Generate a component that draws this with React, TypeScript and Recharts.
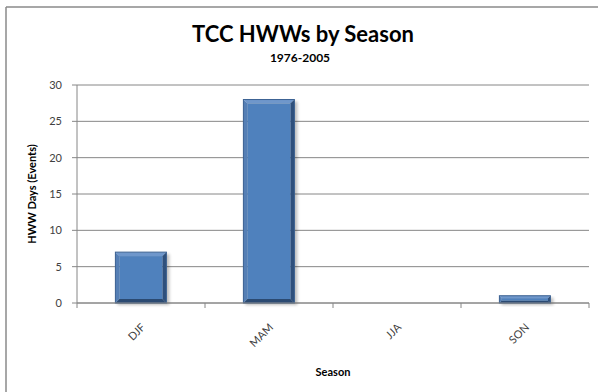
import { BarChart, Bar, XAxis, YAxis, CartesianGrid, Label } from 'recharts';

const seasons = ['DJF', 'MAM', 'JJA', 'SON'];
const hwwDays = [7, 28, 0, 1];
const yTicks = [0, 5, 10, 15, 20, 25, 30];

const data = seasons.map((s, i) => ({ season: s, days: hwwDays[i] }));

const FONT = 'Lato, "Open Sans", sans-serif';

function BevelBar(props: any) {
  const { x, y, width, height } = props;
  if (!height || height <= 0) return null;
  const b = Math.min(4, height / 3);
  return (
    <g>
      <rect x={x + 2} y={y + 2} width={width + 1} height={height} fill="#000" opacity={0.25} filter="url(#barShadow)" />
      {/* bevel edges */}
      <polygon points={`${x},${y} ${x + width},${y} ${x + width - b},${y + b} ${x + b},${y + b}`} fill="#6f97cb" />
      <polygon points={`${x},${y} ${x + b},${y + b} ${x + b},${y + height - b} ${x},${y + height}`} fill="#557fb5" />
      <polygon points={`${x + width},${y} ${x + width},${y + height} ${x + width - b},${y + height - b} ${x + width - b},${y + b}`} fill="#2f507c" />
      <polygon points={`${x},${y + height} ${x + width},${y + height} ${x + width - b},${y + height - b} ${x + b},${y + height - b}`} fill="#2b4a72" />
      <rect x={x + b} y={y + b} width={width - 2 * b} height={height - 2 * b} fill="#4f81bd" />
      <rect x={x} y={y} width={width} height={height} fill="none" stroke="#3a6091" strokeWidth={1} />
    </g>
  );
}

function SeasonTick(props: any) {
  const { x, y, payload } = props;
  const half = payload && payload.offset ? payload.offset : 0;
  return (
    <g>
      <line x1={x + half} y1={y - 8} x2={x + half} y2={y - 3} stroke="#868686" />
      {payload.index === 0 && <line x1={x - half} y1={y - 8} x2={x - half} y2={y - 3} stroke="#868686" />}
      <text
        x={x + 5}
        y={y + 17}
        textAnchor="end"
        transform={`rotate(-45, ${x + 5}, ${y + 17})`}
        fontSize={11}
        fill="#404040"
        fontFamily={FONT}
      >
        {payload.value}
      </text>
    </g>
  );
}

export default function App() {
  return (
    <div style={{ position: 'absolute', left: 0, top: 0, width: 598, height: 392, background: '#fff' }}>
      <svg width={598} height={392} style={{ position: 'absolute', left: 0, top: 0 }}>
        <line x1={6} y1={7} x2={598} y2={7} stroke="#8a8a8a" strokeWidth={1.5} />
        <line x1={6} y1={7} x2={6} y2={392} stroke="#8a8a8a" strokeWidth={1.5} />
        <text x={303} y={42} textAnchor="middle" fontSize={22} fontWeight="bold" fontFamily={FONT} fill="#000">
          TCC HWWs by Season
        </text>
        <text x={300} y={62} textAnchor="middle" fontSize={12} fontWeight="bold" fontFamily={FONT} fill="#000">
          1976-2005
        </text>
      </svg>
      <div style={{ position: 'absolute', left: 0, top: 0 }}>
        <BarChart
          width={598}
          height={392}
          data={data}
          margin={{ top: 85, right: 9, bottom: 4, left: 17 }}
          barCategoryGap="30%"
        >
          <defs>
            <filter id="barShadow" x="-20%" y="-20%" width="140%" height="140%">
              <feGaussianBlur stdDeviation="1.5" />
            </filter>
          </defs>
          <CartesianGrid vertical={false} stroke="#868686" strokeWidth={1} />
          <XAxis
            dataKey="season"
            height={85}
            axisLine={{ stroke: '#868686' }}
            tickLine={false}
            tick={<SeasonTick />}
            interval={0}
          >
            <Label value="Season" position="insideBottom" offset={12} fontSize={11} fontWeight="bold" fill="#000" fontFamily={FONT} />
          </XAxis>
          <YAxis
            width={60}
            domain={[0, 30]}
            ticks={yTicks}
            interval={0}
            axisLine={{ stroke: '#868686' }}
            tickLine={{ stroke: '#868686' }}
            tickSize={5}
            tickMargin={10}
            tick={{ fontSize: 11, fill: '#404040', fontFamily: FONT }}
          >
            <Label
              value="HWW Days (Events)"
              angle={-90}
              position="insideLeft"
              offset={15}
              style={{ textAnchor: 'middle' }}
              fontSize={11}
              fontWeight="bold"
              fill="#000"
              fontFamily={FONT}
            />
          </YAxis>
          <Bar dataKey="days" shape={<BevelBar />} isAnimationActive={false} />
        </BarChart>
      </div>
    </div>
  );
}
